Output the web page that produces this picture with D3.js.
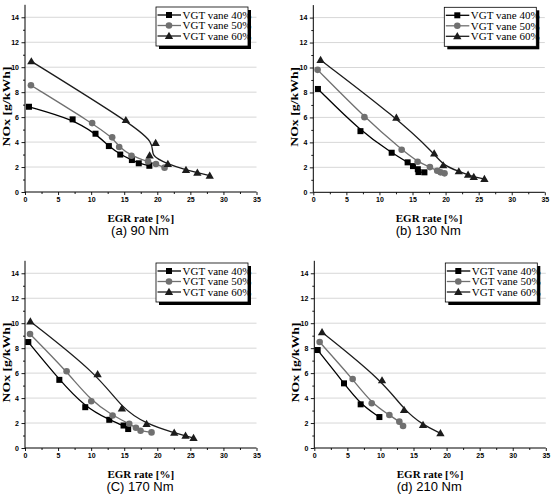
<!DOCTYPE html>
<html><head><meta charset="utf-8">
<script src="https://cdn.jsdelivr.net/npm/d3@7"></script>
<style>body{margin:0;background:#fff}svg{display:block}</style>
</head><body>
<script>
// ---- data: [EGR rate %, NOx g/kWh] ----
const a40 = [[0.6,6.83],[7.2,5.82],[10.66,4.67],[12.68,3.68],[14.4,3.0],[16.16,2.56],[17.2,2.3],[18.8,2.1]];
const a50 = [[0.9,8.55],[10.15,5.52],[13.18,4.38],[14.24,3.6],[16.1,2.9],[18.6,2.44],[19.8,2.24],[21.1,1.95]];
const a60 = [[0.96,10.47],[15.25,5.76],[19.75,3.92],[18.84,2.92],[21.6,2.25],[24.34,1.77],[26.06,1.55],[27.93,1.31]];

const b40 = [[0.7,8.28],[7.13,4.9],[11.85,3.17],[14.26,2.4],[15.07,2.1],[15.8,1.85],[15.9,1.62],[16.8,1.6]];
const b50 = [[0.65,9.81],[7.73,6.02],[13.36,3.41],[15.77,2.45],[17.63,2.02],[18.73,1.73],[19.24,1.6],[19.84,1.52]];
const b60 = [[1.1,10.6],[12.56,5.97],[18.28,3.11],[19.64,2.16],[22.0,1.68],[23.4,1.41],[24.26,1.22],[25.87,1.07]];

const c40 = [[0.5,8.49],[5.19,5.46],[9.11,3.27],[12.74,2.26],[14.9,1.8],[15.6,1.52]];
const c50 = [[0.76,9.13],[6.29,6.15],[10.02,3.75],[13.24,2.61],[15.76,1.94],[16.77,1.62],[17.47,1.38],[19.13,1.25]];
const c60 = [[0.81,10.14],[10.98,5.91],[14.65,3.17],[18.38,1.92],[22.56,1.22],[24.27,0.99],[25.48,0.8]];

const d40 = [[0.51,7.85],[4.49,5.18],[7.01,3.5],[9.84,2.48]];
const d50 = [[0.81,8.49],[5.8,5.53],[8.68,3.58],[11.35,2.64],[12.86,2.11],[13.42,1.76]];
const d60 = [[1.17,9.27],[10.24,5.42],[13.57,3.04],[16.44,1.84],[19.07,1.18]];

const seriesNames = ["VGT vane 40%","VGT vane 50%","VGT vane 60%"];
const panelTitles = ["(a) 90 Nm","(b) 130 Nm","(C) 170 Nm","(d) 210 Nm"];
const xTicks = [0,5,10,15,20,25,30,35];
const yTicks = [0,2,4,6,8,10,12,14];
const xLabel = "EGR rate [%]";
const yLabel = "NOx [g/kWh]";

const panelData = [[a40,a50,a60],[b40,b50,b60],[c40,c50,c60],[d40,d50,d60]];
const layout = [{left:25,base:192},{left:313.3,base:192.3},{left:25,base:448},{left:314.3,base:448}];
const styles = [
  {color:"#000", mark:"square"},
  {color:"#707070", mark:"circle"},
  {color:"#1c1c1c", mark:"triangle"}
];

const svg = d3.select("body").append("svg").attr("width",554).attr("height",503);

function marker(g, type, color, x, y){
  if(type==="square"){
    g.append("rect").attr("x",x-3).attr("y",y-3).attr("width",6).attr("height",6).attr("fill",color);
  } else if(type==="circle"){
    g.append("circle").attr("cx",x).attr("cy",y).attr("r",3.3).attr("fill",color);
  } else {
    g.append("path").attr("d",d3.symbol(d3.symbolTriangle,30)()).attr("transform",`translate(${x},${y+0.6})`).attr("fill",color);
  }
}

panelData.forEach((series,i)=>{
  const L = layout[i];
  const x = d3.scaleLinear().domain([0,35]).range([L.left, L.left+231.5]);
  const y = d3.scaleLinear().domain([0,15]).range([L.base, L.base-187.2]);
  const g = svg.append("g");

  // grid
  g.selectAll("line.grid").data(yTicks.filter(t=>t>0)).enter().append("line")
    .attr("x1",x(0)).attr("x2",x(35)).attr("y1",d=>y(d)).attr("y2",d=>y(d))
    .attr("stroke","#d2d2d2").attr("stroke-width",0.9);

  // axes
  const xAxis = d3.axisBottom(x).tickValues(xTicks).tickSize(3).tickPadding(2).tickFormat(d3.format("d"));
  const yAxis = d3.axisLeft(y).tickValues(yTicks).tickSize(3.5).tickPadding(2.5).tickFormat(d3.format("d"));
  const gx = g.append("g").attr("transform",`translate(0,${L.base})`).call(xAxis);
  const gy = g.append("g").attr("transform",`translate(${L.left},0)`).call(yAxis);
  // minor ticks
  const gxm = g.append("g").attr("transform",`translate(0,${L.base})`)
    .call(d3.axisBottom(x).tickValues(d3.range(2.5,35,5)).tickSize(2).tickFormat(""));
  const gym = g.append("g").attr("transform",`translate(${L.left},0)`)
    .call(d3.axisLeft(y).tickValues(d3.range(1,15,2)).tickSize(2).tickFormat(""));
  [gx,gy,gxm,gym].forEach(a=>{
    a.select(".domain").attr("stroke","#000").attr("stroke-width",1);
    a.selectAll(".tick line").attr("stroke","#000").attr("stroke-width",0.9);
    a.selectAll("text").attr("font-family","Liberation Sans, Arial, sans-serif")
      .attr("font-weight","bold").attr("font-size","7px").attr("fill","#000");
  });
  gx.select(".domain").attr("d",`M${x(0)},0H${x(35)}`);
  gy.select(".domain").attr("d",`M0,${y(0)}V${y(15)}`);
  gxm.select(".domain").remove(); gym.select(".domain").remove();

  // series
  const line = d3.line().x(d=>x(d[0])).y(d=>y(d[1])).curve(d3.curveBasis);
  series.forEach((pts,k)=>{
    const s = styles[k];
    g.append("path").attr("d",line(pts)).attr("fill","none").attr("stroke",s.color).attr("stroke-width",1.3);
  });
  series.forEach((pts,k)=>{
    const s = styles[k];
    pts.forEach(p=>marker(g,s.mark,s.color,x(p[0]),y(p[1])));
  });

  // axis titles
  g.append("text").attr("x",x(17.5)).attr("y",L.base+29.5).attr("text-anchor","middle")
    .attr("font-family","Liberation Serif, Times New Roman, serif").attr("font-weight","bold")
    .attr("font-size","11px").text(xLabel);
  g.append("text").attr("transform",`translate(${L.left-15.5},${y(6.85)}) rotate(-90)`)
    .attr("text-anchor","middle")
    .attr("font-family","Liberation Serif, Times New Roman, serif").attr("font-weight","bold")
    .attr("font-size","10.5px").attr("textLength",80).attr("lengthAdjust","spacingAndGlyphs").text(yLabel);

  // panel title
  g.append("text").attr("x",L.left+115).attr("y",L.base+42.5).attr("text-anchor","middle")
    .attr("font-family","Liberation Sans, Arial, sans-serif").attr("font-size","13px").text(panelTitles[i]);

  // legend
  const lx = L.left+131, ly = L.base-185, lw = 92, lh = 39;
  const lg = g.append("g");
  lg.append("rect").attr("x",lx+3).attr("y",ly+3).attr("width",lw).attr("height",lh).attr("fill","#000");
  lg.append("rect").attr("x",lx).attr("y",ly).attr("width",lw).attr("height",lh).attr("fill","#fff")
    .attr("stroke","#000").attr("stroke-width",0.8);
  seriesNames.forEach((name,k)=>{
    const s = styles[k];
    const yy = ly + 8 + k*10.5;
    lg.append("line").attr("x1",lx+1.5).attr("x2",lx+25).attr("y1",yy).attr("y2",yy)
      .attr("stroke",s.color).attr("stroke-width",1.3);
    marker(lg,s.mark,s.color,lx+13,yy);
    lg.append("text").attr("x",lx+26.5).attr("y",yy+3.8)
      .attr("font-family","Liberation Serif, Times New Roman, serif").attr("font-size","11px")
      .attr("fill","#000").text(name);
  });
});
</script>
</body></html>
